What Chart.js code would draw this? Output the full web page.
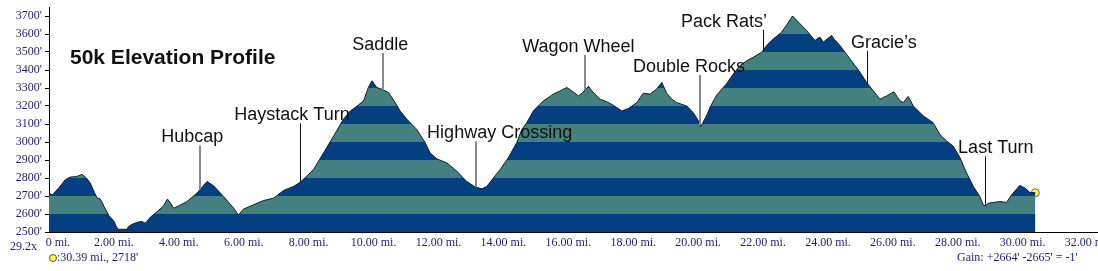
<!DOCTYPE html>
<html>
<head>
<meta charset="utf-8">
<script src="https://cdn.jsdelivr.net/npm/chart.js@4.4.1/dist/chart.umd.min.js"></script>
<style>
  html, body { margin: 0; padding: 0; background: #fff; }
  #wrap { width: 1098px; height: 271px; }
</style>
</head>
<body>
<div id="wrap"><canvas id="profile" width="1098" height="271"></canvas></div>
<script>
// course profile: distance in miles, elevation in feet
const miles = [
  0.00, 0.10, 0.30, 0.50, 0.65, 0.85, 1.02, 1.15, 1.27, 1.40, 1.48, 1.58, 1.70, 1.85, 2.00, 2.09, 2.15, 2.40,
  2.45, 2.56, 2.75, 2.86, 2.97, 3.12, 3.33, 3.53, 3.65, 3.75, 3.84, 3.99, 4.25, 4.56, 4.87, 5.07, 5.38, 5.69,
  5.84, 5.99, 6.30, 6.61, 6.92, 7.23, 7.53, 7.74, 8.15, 8.46, 8.77, 9.07, 9.28, 9.43, 9.69, 9.84, 9.95, 10.10,
  10.30, 10.46, 10.67, 10.82, 11.03, 11.13, 11.33, 11.59, 11.74, 11.95, 12.26, 12.57, 12.87, 13.13, 13.34, 13.49,
  13.69, 13.90, 14.15, 14.41, 14.57, 14.72, 14.92, 15.23, 15.54, 15.75, 15.95, 16.11, 16.31, 16.42, 16.62, 16.77,
  16.98, 17.19, 17.39, 17.65, 17.85, 18.11, 18.31, 18.52, 18.72, 18.88, 19.03, 19.19, 19.34, 19.65, 19.85, 20.01,
  20.08, 20.27, 20.37, 20.57, 20.88, 21.08, 21.29, 21.50, 21.70, 21.96, 22.11, 22.32, 22.45, 22.57, 22.72, 22.91,
  23.14, 23.34, 23.60, 23.75, 23.86, 24.11, 24.20, 24.37, 24.68, 24.99, 25.19, 25.40, 25.60, 25.81, 26.03, 26.22,
  26.32, 26.47, 26.63, 26.94, 27.24, 27.45, 27.66, 27.86, 28.07, 28.27, 28.48, 28.68, 28.78, 28.85, 28.94, 29.09,
  29.30, 29.50, 29.66, 29.91, 30.07, 30.22, 30.39
];
const elevation = [
  2718, 2705, 2745, 2790, 2805, 2808, 2820, 2800, 2772, 2720, 2690, 2684, 2640, 2590, 2560, 2525, 2515, 2515,
  2530, 2543, 2555, 2558, 2549, 2582, 2613, 2645, 2683, 2660, 2632, 2645, 2669, 2716, 2781, 2757, 2697, 2632,
  2595, 2627, 2651, 2675, 2688, 2731, 2753, 2776, 2847, 2940, 3033, 3126, 3172, 3191, 3228, 3303, 3340, 3303,
  3290, 3275, 3219, 3172, 3126, 3107, 3070, 2996, 2940, 2906, 2884, 2837, 2781, 2750, 2740, 2753,
  2800, 2847, 2912, 2996, 3070, 3107, 3172, 3228, 3266, 3284, 3303, 3284, 3256, 3271, 3309, 3275,
  3238, 3223, 3204, 3172, 3186, 3219, 3271, 3266, 3294, 3331, 3271, 3238, 3219, 3200, 3163, 3117,
  3085, 3150, 3195, 3260, 3325, 3377, 3424, 3452, 3471, 3499, 3536, 3573, 3592, 3610, 3648, 3700,
  3657, 3620, 3564, 3583, 3555, 3592, 3570, 3536, 3461, 3387, 3331, 3284, 3238, 3256, 3279, 3228,
  3219, 3253, 3200, 3145, 3107, 3042, 3005, 2977, 2912, 2828, 2753, 2697, 2651, 2645, 2660, 2664,
  2669, 2664, 2707, 2759, 2744, 2720, 2718
];

const xTicks = [0, 2, 4, 6, 8, 10, 12, 14, 16, 18, 20, 22, 24, 26, 28, 30, 32];
const yTicks = [2500, 2600, 2700, 2800, 2900, 3000, 3100, 3200, 3300, 3400, 3500, 3600, 3700];

// course landmarks
const markerNames = ['Hubcap', 'Haystack Turn', 'Saddle', 'Highway Crossing', 'Wagon Wheel',
  'Double Rocks', 'Pack Rats\u2019', 'Gracie\u2019s', 'Last Turn'];
const markerMiles = [4.66, 7.74, 10.30, 13.16, 16.52, 20.06, 22.00, 25.20, 28.84];
const labelMiles = [3.46, 5.71, 9.34, 11.65, 14.58, 17.99, 19.47, 24.71, 28.01];
const labelFeet = [3025, 3148, 3539, 3048, 3528, 3416, 3668, 3551, 2964];

const finishMile = 30.39;
const finishFeet = 2718;

const DARK = '#044081';
const TEAL = '#458080';
const NAVY = '#1f1f6b';

function feetAt(mi) {
  for (let i = 1; i < miles.length; i++) {
    if (mi <= miles[i]) {
      const t = (mi - miles[i - 1]) / (miles[i] - miles[i - 1]);
      return elevation[i - 1] + t * (elevation[i] - elevation[i - 1]);
    }
  }
  return elevation[elevation.length - 1];
}

// alternating 100' bands
function stripes(context) {
  const chart = context.chart;
  const area = chart.chartArea;
  if (!area) return DARK;
  const y = chart.scales.y;
  const g = chart.ctx.createLinearGradient(0, area.bottom, 0, area.top);
  const span = area.bottom - area.top;
  for (let v = y.min, k = 0; v < y.max; v += 100, k++) {
    const a = Math.min(1, (area.bottom - y.getPixelForValue(v)) / span);
    const b = Math.min(1, (area.bottom - y.getPixelForValue(v + 100)) / span);
    const c = k % 2 === 0 ? DARK : TEAL;
    g.addColorStop(a, c);
    g.addColorStop(b, c);
  }
  return g;
}

const landmarks = {
  id: 'landmarks',
  afterDatasetsDraw(chart) {
    const { ctx, scales: { x, y } } = chart;
    ctx.save();
    markerNames.forEach((name, i) => {
      const lx = Math.round(x.getPixelForValue(markerMiles[i]));
      const ty = y.getPixelForValue(labelFeet[i]);
      const by = y.getPixelForValue(feetAt(markerMiles[i]));
      const gray = i < 6 && i !== 1;
      ctx.strokeStyle = gray ? '#8a8a8a' : '#111';
      ctx.lineWidth = gray ? 2 : 1;
      ctx.beginPath();
      ctx.moveTo(lx + (gray ? 0 : 0.5), ty + 8);
      ctx.lineTo(lx + (gray ? 0 : 0.5), by);
      ctx.stroke();
      ctx.fillStyle = '#111';
      ctx.font = '18px "Liberation Sans", Arial, sans-serif';
      ctx.textBaseline = 'middle';
      ctx.textAlign = 'left';
      ctx.fillText(name, x.getPixelForValue(labelMiles[i]), ty);
    });

    ctx.font = 'bold 21px "Liberation Sans", Arial, sans-serif';
    ctx.fillStyle = '#111';
    ctx.fillText('50k Elevation Profile', 70, 58);

    ctx.font = '12px "Liberation Serif", "Times New Roman", serif';
    ctx.fillStyle = NAVY;
    ctx.fillText('29.2x', 10, 247);
    ctx.fillText(':' + finishMile.toFixed(2) + ' mi., ' + finishFeet + '\'', 57, 258);
    ctx.fillText('Gain: +2664\' -2665\' = -1\'', 957, 258);
    ctx.beginPath();
    ctx.arc(53, 258, 3.5, 0, Math.PI * 2);
    ctx.fillStyle = '#ffff33';
    ctx.fill();
    ctx.strokeStyle = '#555';
    ctx.lineWidth = 1;
    ctx.stroke();
    ctx.restore();
  }
};

new Chart(document.getElementById('profile'), {
  type: 'line',
  data: {
    datasets: [{
      data: miles.map((m, i) => ({ x: m, y: elevation[i] })),
      fill: 'start',
      backgroundColor: stripes,
      borderColor: '#1a1a1a',
      borderWidth: 1,
      pointRadius: 0,
      tension: 0
    }, {
      data: [{ x: finishMile, y: finishFeet }],
      showLine: false,
      pointRadius: 4,
      pointBackgroundColor: '#ffff33',
      pointBorderColor: '#666',
      pointBorderWidth: 1
    }]
  },
  options: {
    responsive: false,
    animation: false,
    layout: { autoPadding: false, padding: { top: 7, left: 0, right: 0, bottom: 0 } },
    plugins: { legend: { display: false }, tooltip: { enabled: false } },
    scales: {
      x: {
        type: 'linear',
        min: 0,
        max: 32.32,
        afterFit: (s) => { s.height = 39; s.paddingLeft = 0; s.paddingRight = 0; },
        afterBuildTicks: (s) => { s.ticks = xTicks.map(v => ({ value: v })); },
        grid: { drawOnChartArea: false, drawTicks: false },
        border: { color: '#000', width: 1 },
        ticks: {
          padding: 4,
          maxRotation: 0,
          autoSkip: false,
          color: NAVY,
          font: { family: '"Liberation Serif", "Times New Roman", serif', size: 12 },
          // first label sits to the right of the origin
          callback: (v) => v === 0 ? '      0 mi.' : v.toFixed(2) + ' mi.'
        }
      },
      y: {
        min: 2500,
        max: 3750,
        afterFit: (s) => { s.width = 49; s.paddingTop = 0; s.paddingBottom = 0; },
        afterBuildTicks: (s) => { s.ticks = yTicks.map(v => ({ value: v })); },
        grid: { drawOnChartArea: false, drawTicks: true, tickLength: 4, tickColor: '#000' },
        border: { color: '#000', width: 1 },
        ticks: {
          padding: 3,
          color: NAVY,
          font: { family: '"Liberation Serif", "Times New Roman", serif', size: 12 },
          callback: (v) => v + '\''
        }
      }
    }
  },
  plugins: [landmarks]
});
</script>
</body>
</html>
